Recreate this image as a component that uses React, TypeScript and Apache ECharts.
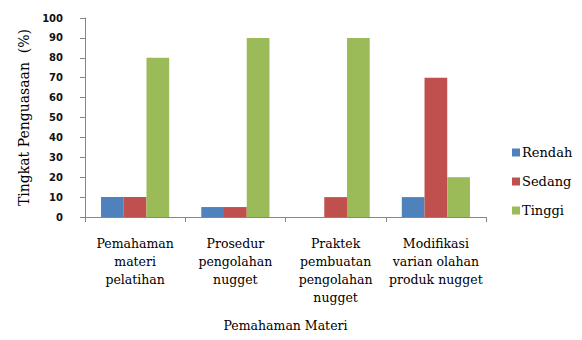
import React, { useEffect, useRef } from "react";
import * as echarts from "echarts";

const categories = [
  "Pemahaman\nmateri\npelatihan",
  "Prosedur\npengolahan\nnugget",
  "Praktek\npembuatan\npengolahan\nnugget",
  "Modifikasi\nvarian olahan\nproduk nugget",
];
const rendah = [10, 5, 0, 10];
const sedang = [10, 5, 10, 70];
const tinggi = [80, 90, 90, 20];
const seriesNames = ["Rendah", "Sedang", "Tinggi"];
const colors = ["#4F81BD", "#C0504D", "#9BBB59"];

const serif = "DejaVu Serif";

export default function App() {
  const ref = useRef<HTMLDivElement>(null);
  useEffect(() => {
    if (!ref.current) return;
    const chart = echarts.init(ref.current, undefined, { renderer: "svg" });
    const values = [rendah, sedang, tinggi];
    chart.setOption({
      animation: false,
      color: colors,
      grid: { left: 85, right: 96, top: 18, bottom: 123, containLabel: false },
      legend: {
        orient: "vertical",
        left: 507,
        top: 141,
        itemWidth: 8,
        itemHeight: 8,
        itemGap: 16,
        icon: "rect",
        textStyle: { fontFamily: serif, fontSize: 13, color: "#000", padding: [0, 0, 0, -3] },
        data: seriesNames,
      },
      xAxis: {
        type: "category",
        data: categories,
        name: "Pemahaman Materi",
        nameLocation: "middle",
        nameGap: 102,
        nameTextStyle: { fontFamily: serif, fontSize: 12.5, color: "#000" },
        axisLine: { lineStyle: { color: "#868686" } },
        axisTick: { show: true, length: 5, lineStyle: { color: "#868686" } },
        axisLabel: {
          interval: 0,
          fontFamily: serif,
          fontSize: 12.5,
          color: "#000",
          lineHeight: 18,
          margin: 17,
        },
      },
      yAxis: {
        type: "value",
        min: 0,
        max: 100,
        interval: 10,
        name: "Tingkat Penguasaan  (%)",
        nameLocation: "middle",
        nameGap: 52,
        nameTextStyle: { fontFamily: serif, fontSize: 14, color: "#000" },
        splitLine: { show: false },
        axisLine: { show: true, lineStyle: { color: "#868686" } },
        axisTick: { show: true, length: 5, lineStyle: { color: "#868686" } },
        axisLabel: {
          fontFamily: "DejaVu Sans",
          fontSize: 10,
          fontWeight: 600,
          color: "#111",
          margin: 22,
        },
      },
      series: seriesNames.map((n, i) => ({
        name: n,
        type: "bar",
        data: values[i],
        barGap: "0%",
        barCategoryGap: "32%",
      })),
    });
    return () => chart.dispose();
  }, []);
  return <div ref={ref} style={{ width: 582, height: 340, position: "absolute", left: 0, top: 0 }} />;
}
